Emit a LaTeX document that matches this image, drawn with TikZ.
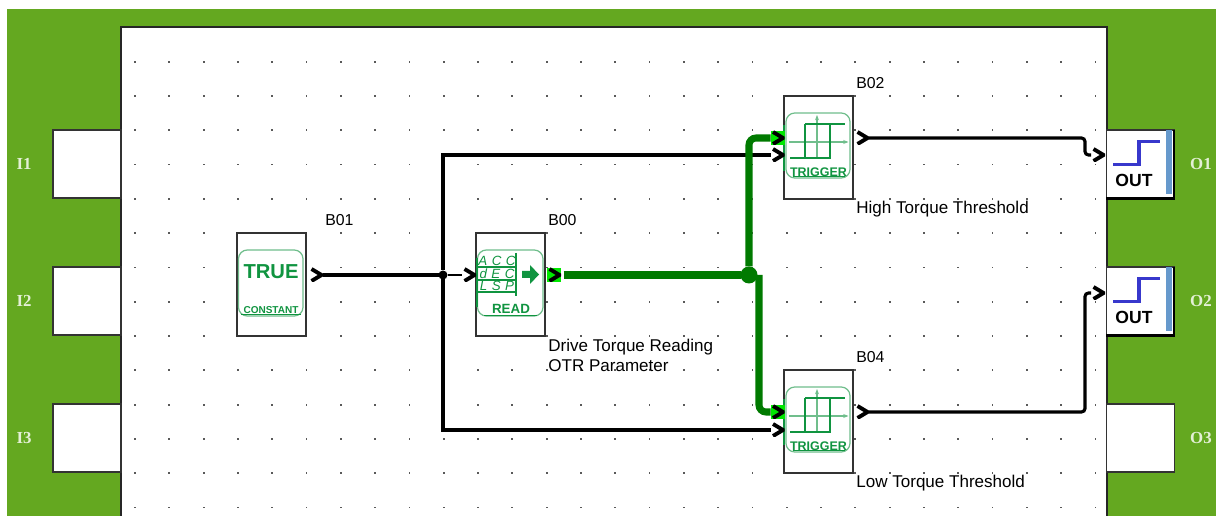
\documentclass[tikz,border=0pt]{standalone}
\usepackage{fontspec}
\setmainfont{Liberation Sans}
\newfontfamily\serifname{Liberation Serif}
\usepackage{xcolor}
\usetikzlibrary{arrows.meta, positioning, calc}
\definecolor{plate}{RGB}{100, 168, 32}
\definecolor{plabel}{RGB}{228, 240, 214}
\definecolor{wiregreen}{RGB}{0, 122, 0}
\definecolor{hilite}{RGB}{0, 232, 0}
\definecolor{icon}{RGB}{16, 148, 64}
\definecolor{iconlt}{RGB}{112, 190, 140}
\definecolor{stepblue}{RGB}{56, 56, 204}
\definecolor{barblue}{RGB}{102, 153, 204}

\tikzset{
  trigicon/.pic={
    \draw[iconlt, line width=0.7pt, rounded corners=5pt] (-32.5,-34.5) rectangle (31.5,30.5);
    \draw[iconlt, line width=0.7pt, -{Stealth[length=3pt]}] (-30,-5.5) -- (30,-5.5);
    \draw[iconlt, line width=0.7pt, -{Stealth[length=3pt]}] (-1.5,10.5) -- (-1.5,-32.5);
    \draw[icon, line width=1.2pt] (-13.5,-23.5) -- (26.5,-23.5);
    \draw[icon, line width=1.2pt] (-13.5,-23.5) -- (-13.5,10.5);
    \draw[icon, line width=1.2pt] (-28.5,10.5) -- (11.5,10.5) -- (11.5,-23.5);
    \draw[icon, line width=1.2pt] (-34.5,-22.5) -- (-34.5,23.5);
    \node[icon, font=\fontsize{7.1}{8}\selectfont\bfseries, inner sep=0pt] (-txt) at (0,24.5) {TRIGGER};
    \draw[icon, line width=0.7pt] (-26,29) -- (26,29);
  },
  outicon/.pic={
    \draw[stepblue, line width=2pt] (-21,0.5) -- (5,0.5) -- (5,-22.5) -- (26,-22.5);
    \node[font=\fontsize{10}{10}\selectfont\bfseries, inner sep=0pt] (-txt) at (0,16) {OUT};
    \fill[barblue] (32,-34) rectangle (38,30);
    \draw[black, line width=1.4pt] (40,-34) -- (40,34.5) -- (-28,34.5);
  }
}

\begin{document}
\begin{tikzpicture}[
  x=0.02cm, y=-0.02cm,
  sidebox/.style={rectangle, draw=black!80, fill=white, line width=0.8pt,
                  minimum width=1.36cm, minimum height=1.36cm, inner sep=0pt},
  block/.style={rectangle, draw=black!80, fill=white, line width=0.8pt,
                minimum width=1.38cm, minimum height=2.06cm, inner sep=0pt},
  port/.style={rectangle, inner sep=0pt, minimum size=0.28cm, outer sep=0pt,
               path picture={\draw[black, line width=2.2pt, miter limit=4]
                 ($(path picture bounding box.north west)+(0.05cm,-0.02cm)$)
                 -- ($(path picture bounding box.east)+(-0.03cm,0)$)
                 -- ($(path picture bounding box.south west)+(0.05cm,0.02cm)$);}},
  hotport/.style={port, fill=hilite},
  joint/.style={circle, inner sep=0pt, outer sep=0pt},
  wire/.style={draw=black, line width=1.8pt},
  hotwire/.style={draw=wiregreen, line width=4pt, rounded corners=4pt},
  blockname/.style={font=\fontsize{9}{11}\selectfont, anchor=west, inner sep=0pt},
  note/.style={font=\fontsize{9.7}{11.4}\selectfont, anchor=west, align=left, inner sep=0pt},
  plabel/.style={font=\serifname\bfseries\fontsize{9.6}{11}\selectfont, text=plabel, inner sep=0pt}
]
  \useasboundingbox (0,0) rectangle (1228,516);
  \fill[plate] (7,9) rectangle (1216,516);
  \fill[white] (121,27) rectangle (1107,516);
  \draw[black!85, line width=0.8pt] (121,516) -- (121,27) -- (1107,27) -- (1107,516);

  % grid of dots
  \foreach \i in {0,...,28}
    \foreach \j in {0,...,13}
      \fill[black!65] ({135+34.3*\i-0.9},{61.7+34.3*\j-0.9}) rectangle ++(1.8,1.8);

  % input and output boxes
  \node[sidebox] (i1) at (87,164)  {};
  \node[sidebox] (i2) at (87,301)  {};
  \node[sidebox] (i3) at (87,438)  {};
  \node[sidebox] (o1) at (1140.5,164) {};
  \node[sidebox] (o2) at (1140.5,301) {};
  \node[sidebox] (o3) at (1140.5,438) {};
  \node[plabel] (li1) at (24,164) {I1};
  \node[plabel] (li2) at (24,301) {I2};
  \node[plabel] (li3) at (24,438) {I3};
  \node[plabel] (lo1) at (1201,164) {O1};
  \node[plabel] (lo2) at (1201,301) {O2};
  \node[plabel] (lo3) at (1201,438) {O3};
  \pic (o1i) at (1134,164) {outicon};
  \pic (o2i) at (1134,301) {outicon};

  % blocks
  \node[block] (b01) at (271.5,284.5) {};
  \node[block] (b00) at (510.5,284.5) {};
  \node[block] (b02) at (818.5,147.5) {};
  \node[block] (b04) at (818.5,421.5) {};
  \pic (b02i) at (b02) {trigicon};
  \pic (b04i) at (b04) {trigicon};

  % TRUE icon
  \draw[iconlt, line width=0.7pt, rounded corners=5pt] (238.5,250) rectangle (303,316);
  \node[icon, font=\fontsize{11.5}{12}\selectfont\bfseries, inner sep=0pt] (truetxt) at (271,272) {TRUE};
  \node[icon, font=\fontsize{5.7}{6}\selectfont\bfseries, inner sep=0pt] (consttxt) at (271,310) {CONSTANT};
  \draw[icon, line width=0.7pt] (241,314.5) -- (301,314.5);

  % READ icon
  \draw[iconlt, line width=0.7pt, rounded corners=5pt] (477.5,250) rectangle (543,316);
  \draw[icon, line width=1pt] (477,258) -- (477,307);
  \draw[icon, line width=0.6pt] (516,253) -- (516,296);
  \foreach \yy in {267,280,292}
    \draw[icon, line width=0.6pt] (478,\yy) -- (516,\yy);
  \node[icon, font=\fontsize{7.6}{8}\selectfont\itshape, inner sep=0pt] (acc) at (497,261) {A\,\,C\,\,C};
  \node[icon, font=\fontsize{7.6}{8}\selectfont\itshape, inner sep=0pt] (dec) at (497,274) {d\,\,E\,\,C};
  \node[icon, font=\fontsize{7.6}{8}\selectfont\itshape, inner sep=0pt] (lsp) at (497,286) {L\,\,S\,\,P};
  \fill[icon] (522,271) -- (530,271) -- (530,265) -- (539,274.5) -- (530,284) -- (530,278) -- (522,278) -- cycle;
  \node[icon, font=\fontsize{7.6}{8}\selectfont\bfseries, inner sep=0pt] (readtxt) at (511,309) {READ};
  \draw[icon, line width=0.7pt] (484,315.5) -- (537,315.5);

  % ports
  \node[port] (b01out) at (316,275) {};
  \node[port] (b00in) at (469,275) {};
  \node[hotport] (b00out) at (554,275) {};
  \node[hotport] (b02a) at (777.5,138) {};
  \node[port] (b02b) at (777.5,155) {};
  \node[port] (b02out) at (862,138) {};
  \node[hotport] (b04a) at (777.5,412) {};
  \node[port] (b04b) at (777.5,430) {};
  \node[port] (b04out) at (862,412) {};
  \node[port] (o1in) at (1098,155) {};
  \node[port] (o2in) at (1098,293) {};

  % junctions
  \node[joint, fill=black, minimum size=0.18cm] (jblack) at (443,275) {};
  \node[joint, fill=wiregreen, minimum size=0.34cm] (jgreen) at (749,275) {};
  \coordinate (jgreenb) at (759,275);
  \coordinate (bend1) at (1085,146);
  \coordinate (bend2) at (1085,350);

  % wires
  \draw[wire] (b01out) -- (jblack);
  \draw[wire, line width=1.4pt] (jblack) -- (b00in);
  \draw[wire] (jblack) |- (b02b);
  \draw[wire] (jblack) |- (b04b);
  \draw[wire, rounded corners=2pt] (b02out) -| (bend1) |- (o1in);
  \draw[wire, rounded corners=2pt] (b04out) -| (bend2) |- (o2in);
  \draw[hotwire, shorten <=1.5pt] (b00out) -- (jgreen);
  \draw[hotwire] (jgreen) |- (b02a);
  \draw[hotwire] (jgreenb) |- (b04a);

  % labels
  \node[blockname] (nb01) at (325,220) {B01};
  \node[blockname] (nb00) at (548,220) {B00};
  \node[blockname] (nb02) at (856,83)  {B02};
  \node[blockname] (nb04) at (856,357) {B04};
  \node[note] (tb00) at (548,355.5) {Drive Torque Reading\\OTR Parameter};
  \node[note] (tb02) at (856,209.5) {High Torque Threshold};
  \node[note] (tb04) at (856,483.5) {Low Torque Threshold};
\end{tikzpicture}
\end{document}
